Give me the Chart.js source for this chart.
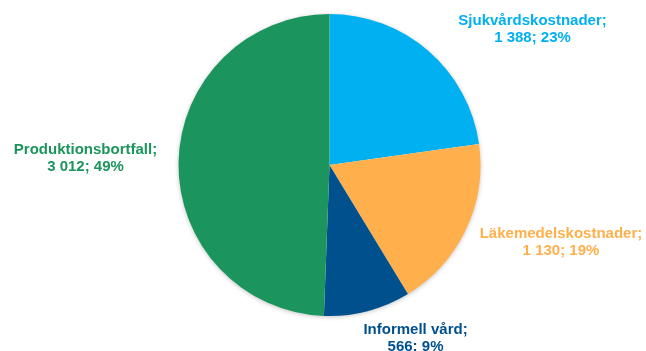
<!DOCTYPE html>
<html>
<head>
<meta charset="utf-8">
<script src="https://cdn.jsdelivr.net/npm/chart.js@4"></script>
<style>
  html, body { margin: 0; padding: 0; background: #fff; }
  #wrap { width: 646px; height: 351px; position: relative; }
</style>
</head>
<body>
<div id="wrap"><canvas id="pie" width="646" height="351"></canvas></div>
<script>
// ---- Data ----
const categories = ["Sjukvårdskostnader", "Läkemedelskostnader", "Informell vård", "Produktionsbortfall"];
const values = [1388, 1130, 566, 3012];
const percents = [23, 19, 9, 49];
const valueLabels = ["1 388", "1 130", "566", "3 012"];

// ---- Styles ----
const colors = ["#00B0F0", "#FFAF4C", "#00508E", "#1B955D"];
// label offset from the slice's outer mid point
const labelOffsets = [[104, -22], [95, 13], [48, 27], [-93, -4]];

// shadow under the whole pie
const pieShadow = {
  id: "pieShadow",
  beforeDatasetsDraw(chart) {
    const arc = chart.getDatasetMeta(0).data[0];
    if (!arc) return;
    const ctx = chart.ctx;
    ctx.save();
    ctx.shadowColor = "rgba(0,0,0,0.28)";
    ctx.shadowBlur = 5;
    ctx.shadowOffsetX = 0;
    ctx.shadowOffsetY = 1;
    ctx.fillStyle = "#ffffff";
    ctx.beginPath();
    ctx.arc(arc.x, arc.y, arc.outerRadius - 0.5, 0, Math.PI * 2);
    ctx.fill();
    ctx.restore();
  }
};

// category labels drawn next to each slice
const sliceLabels = {
  id: "sliceLabels",
  afterDatasetsDraw(chart) {
    const ctx = chart.ctx;
    const meta = chart.getDatasetMeta(0);
    ctx.save();
    ctx.font = "bold 15px 'Liberation Sans', Arial, sans-serif";
    ctx.textAlign = "center";
    ctx.textBaseline = "middle";
    meta.data.forEach((arc, i) => {
      const mid = (arc.startAngle + arc.endAngle) / 2;
      const px = arc.x + Math.cos(mid) * arc.outerRadius + labelOffsets[i][0];
      const py = arc.y + Math.sin(mid) * arc.outerRadius + labelOffsets[i][1];
      ctx.fillStyle = colors[i];
      ctx.fillText(categories[i] + ";", px, py - 8.5);
      ctx.fillText(valueLabels[i] + "; " + percents[i] + "%", px, py + 8.5);
    });
    ctx.restore();
  }
};

new Chart(document.getElementById("pie"), {
  type: "pie",
  data: {
    labels: categories,
    datasets: [{
      data: values,
      backgroundColor: colors,
      borderWidth: 0
    }]
  },
  options: {
    responsive: false,
    animation: false,
    devicePixelRatio: 1,
    layout: { padding: { top: 14, bottom: 35, left: 13, right: 0 } },
    plugins: { legend: { display: false }, tooltip: { enabled: false } }
  },
  plugins: [pieShadow, sliceLabels]
});
</script>
</body>
</html>
